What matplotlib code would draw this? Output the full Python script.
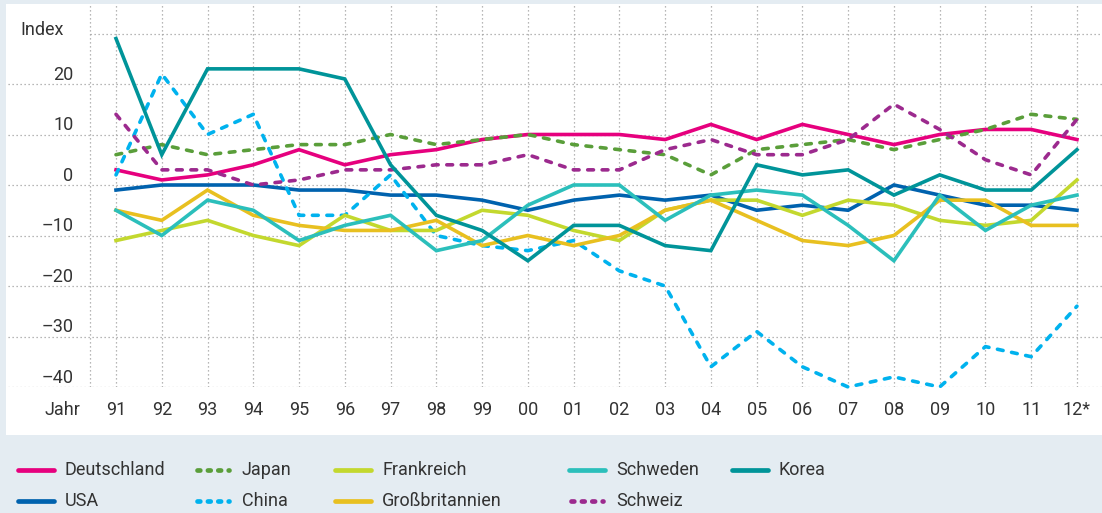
import matplotlib
matplotlib.use("Agg")
import matplotlib.pyplot as plt
from matplotlib.lines import Line2D
from matplotlib.patches import Rectangle

plt.rcParams['font.family'] = ['Roboto', 'DejaVu Sans']

jahre = ['91', '92', '93', '94', '95', '96', '97', '98', '99', '00', '01',
         '02', '03', '04', '05', '06', '07', '08', '09', '10', '11', '12*']

deutschland = [3, 1, 2, 4, 7, 4, 6, 7, 9, 10, 10, 10, 9, 12, 9, 12, 10, 8, 10, 11, 11, 9]
usa = [-1, 0, 0, 0, -1, -1, -2, -2, -3, -5, -3, -2, -3, -2, -5, -4, -5, 0, -2, -4, -4, -5]
japan = [6, 8, 6, 7, 8, 8, 10, 8, 9, 10, 8, 7, 6, 2, 7, 8, 9, 7, 9, 11, 14, 13]
china = [2, 22, 10, 14, -6, -6, 2, -10, -12, -13, -11, -17, -20, -36, -29, -36, -40, -38, -40, -32, -34, -24]
frankreich = [-11, -9, -7, -10, -12, -6, -9, -9, -5, -6, -9, -11, -5, -3, -3, -6, -3, -4, -7, -8, -7, 1]
grossbritannien = [-5, -7, -1, -6, -8, -9, -9, -7, -12, -10, -12, -10, -5, -3, -7, -11, -12, -10, -3, -3, -8, -8]
schweden = [-5, -10, -3, -5, -11, -8, -6, -13, -11, -4, 0, 0, -7, -2, -1, -2, -8, -15, -2, -9, -4, -2]
schweiz = [14, 3, 3, 0, 1, 3, 3, 4, 4, 6, 3, 3, 7, 9, 6, 6, 9, 16, 11, 5, 2, 13]
korea = [29, 6, 23, 23, 23, 21, 4, -6, -9, -15, -8, -8, -12, -13, 4, 2, 3, -2, 2, -1, -1, 7]

y_ticks = [20, 10, 0, -10, -20, -30, -40]

# name, values, colour, dashed, legend slot (column, row)
serien = [
    ('Deutschland', deutschland, '#e6007e', False, (0, 0)),
    ('USA', usa, '#0062ae', False, (0, 1)),
    ('Japan', japan, '#5a9e3a', True, (1, 0)),
    ('China', china, '#00b2ee', True, (1, 1)),
    ('Frankreich', frankreich, '#c3d82e', False, (2, 0)),
    ('Großbritannien', grossbritannien, '#e8c020', False, (2, 1)),
    ('Schweden', schweden, '#2bbfbb', False, (3, 0)),
    ('Schweiz', schweiz, '#9c2a8e', True, (3, 1)),
    ('Korea', korea, '#009499', False, (4, 0)),
]

W, H = 1102, 513
fig = plt.figure(figsize=(W / 100, H / 100), dpi=100)
fig.patch.set_facecolor('#e4ecf2')

def fx(px):
    return px / W

def fy(py):
    return 1 - py / H

# white panel behind the chart
fig.patches.append(Rectangle((fx(6), fy(435)), fx(1102) - fx(6), fy(4) - fy(435),
                             transform=fig.transFigure, facecolor='white',
                             edgecolor='none', zorder=-5))

ax = fig.add_axes([fx(8), fy(387), fx(1102) - fx(8), fy(4) - fy(387)], zorder=2)
ax.set_facecolor('none')
for s in ax.spines.values():
    s.set_visible(False)
ax.set_xticks([])
ax.set_yticks([])

x = list(range(len(jahre)))
x0 = (8 - 116) / 45.76
x1 = (1102 - 116) / 45.76
y_top = (185 - 4) / 5.05
ax.set_xlim(x0, x1)
ax.set_ylim(-40, y_top)

grid = dict(color='#a0a0a0', lw=0.9, linestyle=(0, (1, 2.2)), zorder=1)
for v in y_ticks:
    ax.plot([x0, x1], [v, v], **grid)
ax.plot([-0.57, x1], [30, 30], **grid)
for xi in [-0.57] + x:
    ax.plot([xi, xi], [-40, y_top], **grid)

txt = dict(color='#333333', fontsize=13)
for v in y_ticks:
    lab = str(v).replace('-', '–')
    ax.text(-0.93, v + 0.8, lab, ha='right', va='baseline', **txt)
ax.text(-2.1, 29.7, 'Index', ha='left', va='baseline', **txt)

for xi, j in zip(x, jahre):
    ax.text(xi, -44.6, j, ha='center', va='center', clip_on=False, **txt)
ax.text(-1.18, -44.6, 'Jahr', ha='center', va='center', clip_on=False, **txt)

for name, werte, farbe, gestrichelt, _ in serien:
    if gestrichelt:
        ax.plot(x, werte, color=farbe, lw=2.6, dashes=(1.6, 2.4),
                dash_capstyle='round', solid_joinstyle='round', zorder=3, clip_on=False)
    else:
        ax.plot(x, werte, color=farbe, lw=2.6, solid_joinstyle='miter', zorder=3, clip_on=False)

# legend, laid out in fixed columns
spalten = [18, 195, 335, 569, 732]
zeilen = [470, 501]
for name, werte, farbe, gestrichelt, (c, r) in serien:
    hx = spalten[c]
    hy = zeilen[r]
    if gestrichelt:
        ln = Line2D([fx(hx + 2), fx(hx + 34)], [fy(hy), fy(hy)], transform=fig.transFigure,
                    color=farbe, lw=3.4, dashes=(0.6, 1.6), dash_capstyle='round')
    else:
        ln = Line2D([fx(hx), fx(hx + 36)], [fy(hy), fy(hy)], transform=fig.transFigure,
                    color=farbe, lw=3.4, solid_capstyle='round')
    fig.add_artist(ln)
    fig.text(fx(hx + 47), fy(hy), name, ha='left', va='center', **txt)

fig.savefig('out.png', dpi=100, facecolor=fig.get_facecolor())
